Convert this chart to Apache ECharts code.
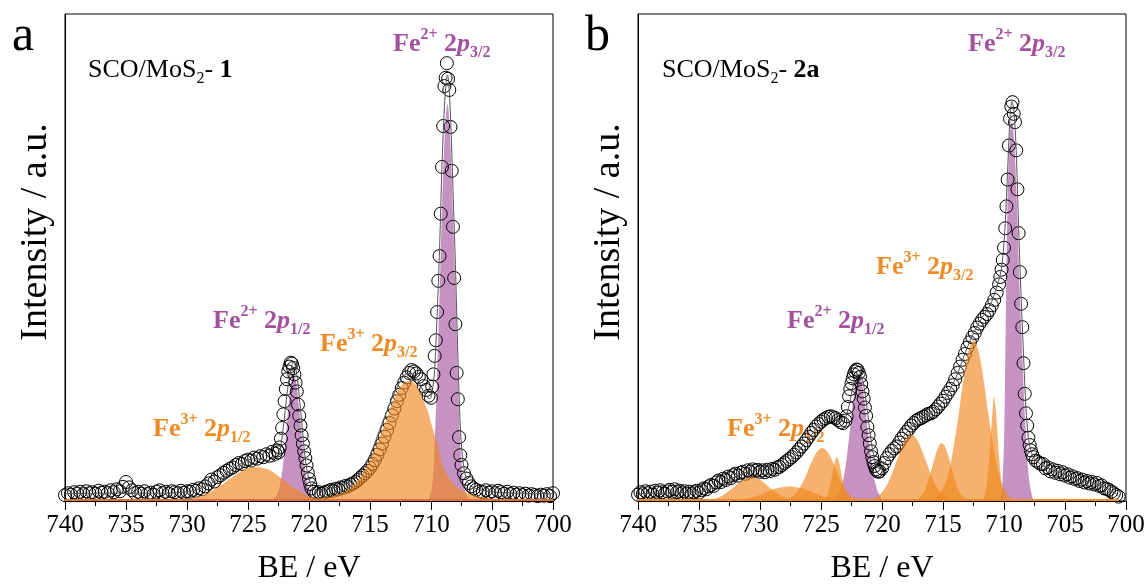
<!DOCTYPE html>
<html><head><meta charset="utf-8">
<script src="https://cdn.jsdelivr.net/npm/echarts@6/dist/echarts.min.js"></script>
<style>html,body{margin:0;padding:0;background:#fff}#c{width:1146px;height:585px}</style>
</head><body><div id="c"></div>
<script>
// ---------- DATA (binding energy in eV, intensity in a.u. 0-100) ----------
const xTickLabels = [740, 735, 730, 725, 720, 715, 710, 705, 700];

// Panel a : SCO/MoS2-1 measured points
const obsA = [[740.0,1.2],[739.75,1.6],[739.5,1.3],[739.25,1.8],[739.0,1.5],[738.75,1.9],[738.5,1.4],[738.25,2.0],[738.0,1.6],[737.75,1.8],[737.5,1.5],[737.25,2.1],[737.0,1.7],[736.75,1.9],[736.5,1.6],[736.25,2.2],[736.0,1.8],[735.75,2.4],[735.5,2.0],[735.25,2.9],[735.0,3.9],[734.75,2.8],[734.5,2.2],[734.25,1.6],[734.0,1.9],[733.75,1.5],[733.5,2.0],[733.25,1.4],[733.0,1.7],[732.75,1.3],[732.5,1.9],[732.25,2.2],[732.0,1.6],[731.75,1.9],[731.5,1.5],[731.25,2.0],[731.0,1.8],[730.75,1.6],[730.5,2.1],[730.25,1.7],[730.0,2.0],[729.75,1.9],[729.5,2.3],[729.25,2.1],[729.0,2.6],[728.75,2.4],[728.5,3.0],[728.25,3.6],[728.0,4.4],[727.75,4.0],[727.5,4.9],[727.25,5.3],[727.0,5.8],[726.75,6.2],[726.5,6.6],[726.25,6.9],[726.0,7.4],[725.75,7.8],[725.5,7.6],[725.25,8.2],[725.0,8.5],[724.75,8.3],[724.5,8.9],[724.25,8.7],[724.0,9.2],[723.75,9.0],[723.5,9.6],[723.25,9.3],[723.0,10.1],[722.75,9.7],[722.6,10.4],[722.5,10.0],[722.4,11.0],[722.3,12.8],[722.2,15.0],[722.1,17.8],[722.0,20.5],[721.9,23.0],[721.8,25.0],[721.7,26.6],[721.6,27.6],[721.5,28.4],[721.4,28.2],[721.3,27.3],[721.2,26.0],[721.1,24.3],[721.0,22.5],[720.9,19.8],[720.8,17.5],[720.7,15.5],[720.6,13.5],[720.5,11.8],[720.4,10.2],[720.3,8.8],[720.2,7.3],[720.1,5.8],[720.0,4.5],[719.9,3.5],[719.8,2.6],[719.6,1.9],[719.4,1.6],[719.2,1.8],[719.0,1.5],[718.8,1.7],[718.6,1.9],[718.4,2.0],[718.2,2.3],[718.0,2.1],[717.8,2.5],[717.6,2.4],[717.4,2.8],[717.2,2.7],[717.0,3.1],[716.8,3.0],[716.6,3.4],[716.4,3.6],[716.2,3.9],[716.0,4.3],[715.8,4.8],[715.6,5.2],[715.4,5.7],[715.2,6.2],[715.0,6.8],[714.8,7.6],[714.6,8.4],[714.4,9.5],[714.2,10.6],[714.0,11.8],[713.8,13.2],[713.6,14.6],[713.4,16.0],[713.2,17.6],[713.0,19.0],[712.8,20.5],[712.6,21.8],[712.4,23.2],[712.2,24.3],[712.0,25.4],[711.8,26.3],[711.6,26.9],[711.4,26.6],[711.2,26.2],[711.0,25.5],[710.8,25.0],[710.6,23.6],[710.4,22.8],[710.2,21.6],[710.0,21.2],[709.9,23.5],[709.8,26.0],[709.7,29.8],[709.6,33.0],[709.5,38.8],[709.4,45.2],[709.3,50.3],[709.2,59.0],[709.1,68.6],[709.0,77.0],[708.9,85.2],[708.8,86.9],[708.7,89.9],[708.6,86.7],[708.5,84.4],[708.4,76.8],[708.3,67.8],[708.2,56.3],[708.1,45.8],[708.0,36.3],[707.9,26.3],[707.8,20.9],[707.7,13.1],[707.6,9.4],[707.5,7.4],[707.3,5.7],[707.1,4.6],[706.9,3.7],[706.7,3.0],[706.5,2.6],[706.3,2.3],[706.0,2.0],[705.75,1.8],[705.5,2.2],[705.25,1.7],[705.0,2.0],[704.75,1.6],[704.5,2.1],[704.25,1.8],[704.0,1.5],[703.75,1.9],[703.5,1.4],[703.25,1.7],[703.0,1.3],[702.75,1.6],[702.5,1.2],[702.25,1.5],[702.0,1.1],[701.75,1.4],[701.5,1.2],[701.25,1.0],[701.0,1.3],[700.75,1.1],[700.5,1.4],[700.25,1.0],[700.0,1.6]];
// Panel a : fitted components
const a_fe3_p12 = [[731,0],[730,0.3],[729,0.9],[728,2.0],[727,3.6],[726.5,4.5],[726,5.4],[725.5,6.2],[725,6.8],[724.3,7.0],[723.5,6.6],[723,6.0],[722.5,5.1],[722,4.2],[721.5,3.2],[721,2.4],[720.5,1.6],[720,1.0],[719,0.4],[718,0.1],[717,0]];
const a_fe2_p12 = [[722.9,0.5],[722.55,1.6],[722.25,5.1],[722.1,8.1],[721.9,13.2],[721.7,18.9],[721.5,23.5],[721.25,26.3],[721.0,23.5],[720.8,18.9],[720.6,13.2],[720.4,8.1],[720.25,5.1],[719.95,1.6],[719.6,0.5]];
const a_fe3_p32 = [[720,0.3],[719,0.6],[718,1.1],[717,2.0],[716.5,3.0],[715.8,4.9],[715.2,7.5],[714.8,9.6],[714.4,11.9],[714,14.5],[713.5,17.8],[713.1,20.7],[712.6,23.2],[712.2,24.3],[711.7,24.7],[711.2,23.7],[710.8,21.7],[710.3,18.7],[709.9,15.2],[709.5,11.9],[709.2,8.8],[709.0,7.0],[708.6,5.0],[708.2,3.6],[707.6,2.3],[706.5,1.2],[705.4,0.6],[704,0.2],[702,0]];
const a_fe2_p32 = [[710.2,0.3],[709.9,3],[709.7,12],[709.5,26],[709.3,42],[709.1,60],[708.9,74],[708.75,80],[708.65,81.5],[708.55,80],[708.4,73],[708.2,59],[708.0,44],[707.8,26],[707.6,12],[707.4,5],[707.1,1.2],[706.8,0.3]];
const a_envelope = [[740,1.5],[736,1.6],[732,1.6],[730,1.9],[729,2.5],[728,3.6],[727,5.2],[726,7.0],[725,8.4],[724.3,8.7],[723.5,8.4],[723,8.0],[722.6,8.5],[722.3,11.5],[722.0,17.5],[721.8,22],[721.6,25.5],[721.4,27.8],[721.25,28.6],[721.1,27.5],[720.9,24.0],[720.7,19],[720.5,13.5],[720.3,8.5],[720.0,4.5],[719.7,2.8],[719.3,2.2],[718.5,2.3],[718,2.6],[717,3.5],[716,5.2],[715,9.5],[714,16],[713,22.2],[712.2,25.8],[711.7,26.2],[711.2,25.3],[710.8,23.5],[710.4,21.5],[710.1,21.0],[709.9,22.5],[709.7,27],[709.5,38],[709.3,51.5],[709.1,69],[708.9,81],[708.75,86],[708.65,87.5],[708.55,86],[708.4,79],[708.2,64],[708.0,48.5],[707.8,30],[707.6,15.5],[707.4,8.5],[707.1,4.5],[706.8,3.2],[706,2.3],[705,1.9],[703,1.6],[700,1.5]];
const a_zero = [[740,0.2],[700,0.2]];

// Panel b : SCO/MoS2-2a measured points
const obsB = [[740.0,1.3],[739.8,1.8],[739.6,1.4],[739.4,2.0],[739.2,1.6],[739.0,1.9],[738.8,1.3],[738.6,2.1],[738.4,1.7],[738.2,2.2],[738.0,1.8],[737.8,1.5],[737.6,2.0],[737.4,2.3],[737.2,1.9],[737.0,2.4],[736.8,1.8],[736.6,2.1],[736.4,1.6],[736.2,2.0],[736.0,1.5],[735.8,1.9],[735.6,1.4],[735.4,1.8],[735.2,2.1],[735.0,1.7],[734.8,2.2],[734.6,2.6],[734.4,2.4],[734.2,3.0],[734.0,3.3],[733.8,3.1],[733.6,3.8],[733.4,4.2],[733.2,3.9],[733.0,4.6],[732.8,4.3],[732.6,5.0],[732.4,4.7],[732.2,5.3],[732.0,5.6],[731.8,5.2],[731.6,5.8],[731.4,6.0],[731.2,5.6],[731.0,6.3],[730.8,6.0],[730.6,6.5],[730.4,6.2],[730.2,6.4],[730.0,6.0],[729.8,6.3],[729.6,5.9],[729.4,6.4],[729.2,6.1],[729.0,6.6],[728.8,6.4],[728.6,6.9],[728.4,7.0],[728.2,7.4],[728.0,7.8],[727.8,8.2],[727.6,8.6],[727.4,9.0],[727.2,9.5],[727.0,10.0],[726.8,10.6],[726.6,11.2],[726.4,11.8],[726.2,12.5],[726.0,13.2],[725.8,14.0],[725.6,14.6],[725.4,15.3],[725.2,15.8],[725.0,16.3],[724.8,16.7],[724.6,17.0],[724.4,17.3],[724.2,17.4],[724.0,17.2],[723.8,17.0],[723.6,16.6],[723.4,16.2],[723.2,16.0],[723.0,16.5],[722.9,17.4],[722.8,19.3],[722.7,21.5],[722.6,23.0],[722.5,24.2],[722.4,25.2],[722.3,26.0],[722.2,26.6],[722.1,27.0],[722.0,26.9],[721.9,26.3],[721.8,25.5],[721.7,24.0],[721.6,22.5],[721.5,21.0],[721.4,19.2],[721.3,17.5],[721.2,15.2],[721.1,13.5],[721.0,11.8],[720.9,10.2],[720.8,9.0],[720.7,8.0],[720.6,7.2],[720.5,6.5],[720.4,6.2],[720.3,6.0],[720.2,6.1],[720.0,6.7],[719.8,7.8],[719.6,8.8],[719.4,9.6],[719.2,10.3],[719.0,10.8],[718.8,11.2],[718.6,12.0],[718.4,12.8],[718.2,13.5],[718.0,14.2],[717.8,14.8],[717.6,15.5],[717.4,16.0],[717.2,16.5],[717.0,16.8],[716.8,17.0],[716.6,17.3],[716.4,17.6],[716.2,17.9],[716.0,18.0],[715.8,18.3],[715.6,18.8],[715.4,19.4],[715.2,20.0],[715.0,20.6],[714.8,21.4],[714.6,22.2],[714.4,23.0],[714.2,23.8],[714.0,25.0],[713.8,26.3],[713.6,27.6],[713.4,29.0],[713.2,30.2],[713.0,31.5],[712.8,32.6],[712.6,33.6],[712.4,34.5],[712.2,35.6],[712.0,36.4],[711.8,37.2],[711.6,37.8],[711.4,38.4],[711.2,39.2],[711.0,40.2],[710.8,41.3],[710.6,42.8],[710.4,44.5],[710.3,46.0],[710.2,47.5],[710.1,49.5],[710.0,52.0],[709.9,56.0],[709.8,60.5],[709.7,66.0],[709.6,73.0],[709.5,78.5],[709.4,81.0],[709.3,81.9],[709.2,79.5],[709.1,77.8],[709.0,72.0],[708.9,64.0],[708.8,55.0],[708.7,47.0],[708.6,40.5],[708.5,35.7],[708.4,28.3],[708.3,22.0],[708.2,18.0],[708.1,15.5],[708.0,13.0],[707.9,11.5],[707.8,10.4],[707.7,9.6],[707.6,9.0],[707.4,8.3],[707.2,8.0],[707.0,7.6],[706.8,7.6],[706.6,6.7],[706.4,6.9],[706.2,6.1],[706.0,6.5],[705.8,5.8],[705.6,6.2],[705.4,5.5],[705.2,5.9],[705.0,5.2],[704.8,5.5],[704.6,4.8],[704.4,5.1],[704.2,4.5],[704.0,4.7],[703.8,4.1],[703.6,4.4],[703.4,3.8],[703.2,4.1],[703.0,3.6],[702.8,3.9],[702.6,3.4],[702.4,3.7],[702.2,3.1],[702.0,3.2],[701.8,2.6],[701.6,2.5],[701.4,2.3],[701.2,1.9],[701.0,1.6],[700.8,1.2],[700.6,0.9]];
// Panel b : fitted components
const b_fe3_1 = [[734.5,0],[733.5,0.6],[732.8,1.6],[732.3,2.5],[731.8,3.6],[731.3,4.5],[730.7,4.9],[730.1,4.5],[729.6,3.6],[729.1,2.5],[728.6,1.6],[727.9,0.6],[727,0]];
const b_fe3_2 = [[732,0],[730.5,0.8],[729.5,1.8],[728.5,2.7],[727.6,3.0],[726.7,2.7],[725.7,1.8],[724.7,0.8],[723,0]];
const b_fe3_3 = [[727.9,0.3],[727.4,0.8],[726.9,2.1],[726.5,3.8],[726.1,6.0],[725.7,8.4],[725.3,10.2],[724.9,10.9],[724.5,10.2],[724.1,8.4],[723.7,6.0],[723.3,3.8],[722.9,2.1],[722.4,0.8],[721.9,0.3]];
const b_fe3_4 = [[724.7,0.3],[724.5,1.0],[724.3,2.6],[724.1,5.1],[723.9,7.8],[723.7,9.0],[723.5,7.8],[723.3,5.1],[723.1,2.6],[722.9,1.0],[722.7,0.3]];
const b_fe2_p12 = [[723.7,0.8],[723.4,2.3],[723.1,5.4],[722.9,8.8],[722.7,13],[722.5,17.5],[722.3,21.8],[722.1,24.8],[721.9,25.9],[721.7,24.8],[721.5,21.8],[721.3,17.5],[721.1,13],[720.9,8.8],[720.7,5.4],[720.4,2.3],[720.1,0.8]];
const b_fe3_5 = [[720.6,0.5],[720.1,1.5],[719.6,3.3],[719.2,5.5],[718.8,8.2],[718.4,10.9],[718.0,12.9],[717.6,13.6],[717.2,12.9],[716.8,10.9],[716.4,8.2],[716.0,5.5],[715.6,3.3],[715.1,1.5],[714.6,0.5]];
const b_fe3_6 = [[717.0,0.5],[716.6,1.7],[716.3,3.4],[716.0,5.9],[715.7,8.7],[715.4,11],[715.1,11.9],[714.8,11],[714.5,8.7],[714.2,5.9],[713.9,3.4],[713.6,1.7],[713.2,0.5]];
const b_fe3_7 = [[715.5,0.8],[715.0,2.5],[714.5,6.3],[714.1,11.6],[713.7,18.1],[713.3,25.4],[712.9,30.9],[712.5,33],[712.1,30.9],[711.7,25.4],[711.3,18.1],[710.9,11.6],[710.5,6.3],[710.0,2.5],[709.5,0.8]];
const b_fe3_8 = [[711.65,0.6],[711.45,2.6],[711.25,7.3],[711.1,12.6],[710.95,18],[710.8,21.4],[710.65,18],[710.5,12.6],[710.35,7.3],[710.15,2.6],[709.95,0.6]];
const b_fe2_p32 = [[710.3,0],[710.15,3],[710.0,12],[709.9,28],[709.8,48],[709.7,63],[709.55,73],[709.45,77],[709.34,78],[709.2,75],[709.05,68],[708.9,58],[708.75,46],[708.6,36],[708.45,27],[708.3,18],[708.1,9],[707.9,3.5],[707.65,0.5]];
const b_envelope = [[740,1.5],[737,1.7],[735,1.9],[734,2.6],[733,3.8],[732,5.0],[731,6.0],[730,6.4],[729,6.6],[728,7.6],[727,9.8],[726,12.9],[725,16.0],[724.2,17.2],[723.6,16.6],[723.2,16.5],[722.8,18.6],[722.4,23.3],[722.1,26.2],[721.9,26.8],[721.6,25],[721.3,20.5],[721.0,14.5],[720.7,9.5],[720.4,7.0],[720.1,6.6],[719.6,8.6],[719,10.6],[718,14.0],[717,16.6],[716,18.0],[715,20.5],[714,25.0],[713,31.6],[712.2,36.0],[711.5,38.8],[711.0,41.0],[710.6,44.0],[710.3,46.5],[710.1,50],[709.9,57],[709.7,68],[709.5,79],[709.35,82],[709.2,80.5],[709.0,72],[708.8,56],[708.6,42],[708.4,30],[708.2,19],[708.0,13],[707.8,10.4],[707.5,8.6],[707,7.6],[706,6.3],[705,5.5],[704,4.5],[703,3.9],[702,3.1],[701,1.8],[700.6,1.0]];
const b_zero = [[740,0.2],[700.6,0.2]];

// ---------- STYLE ----------
const FONT = "'Liberation Serif','Times New Roman',serif";
const PURPLE_TXT = '#a3509f';
const ORANGE_TXT = '#f08a24';
const PURPLE_FILL = 'rgba(160,74,156,0.6)';
const ORANGE_FILL = 'rgba(239,135,30,0.65)';

const chart = echarts.init(document.getElementById('c'), null, {renderer: 'canvas'});

function xAx(gi) {
  return {
    type: 'value', gridIndex: gi, min: 700, max: 740, interval: 5, inverse: true,
    name: 'BE / eV', nameLocation: 'middle', nameGap: 52,
    nameTextStyle: {fontFamily: FONT, fontSize: 32, color: '#000'},
    axisLine: {show: true, lineStyle: {color: '#000', width: 1}},
    axisTick: {show: true, inside: false, length: 9, lineStyle: {color: '#000', width: 1}},
    minorTick: {show: true, splitNumber: 2, length: 5, lineStyle: {color: '#000', width: 1}},
    axisLabel: {show: true, margin: 12, fontFamily: FONT, fontSize: 25, color: '#000',
      showMinLabel: true, showMaxLabel: true, hideOverlap: false,
      formatter: v => xTickLabels.indexOf(v) >= 0 ? String(v) : ''},
    splitLine: {show: false}, minorSplitLine: {show: false}
  };
}
function yAx(gi) {
  return {
    type: 'value', gridIndex: gi, min: 0, max: 100,
    axisLine: {show: true, lineStyle: {color: '#000', width: 1}},
    axisTick: {show: false}, axisLabel: {show: false}, splitLine: {show: false}
  };
}
function area(data, fill, gi, z) {
  return {type: 'line', xAxisIndex: gi, yAxisIndex: gi, data: data, smooth: 0.3,
    showSymbol: false, symbol: 'none', silent: true, z: z,
    lineStyle: {width: 0, opacity: 0}, areaStyle: {color: fill, opacity: 1}};
}
function points(data, gi) {
  return {type: 'scatter', xAxisIndex: gi, yAxisIndex: gi, data: data, symbol: 'circle', symbolSize: 13,
    silent: true, z: 2, itemStyle: {color: 'rgba(0,0,0,0)', borderColor: '#000', borderWidth: 1, opacity: 1}};
}
function envelope(data, gi) {
  return {type: 'line', xAxisIndex: gi, yAxisIndex: gi, data: data, smooth: 0.3,
    showSymbol: false, symbol: 'none', silent: true, z: 4, lineStyle: {color: '#555', width: 1}};
}
function zeroLine(data, gi, color) {
  return {type: 'line', xAxisIndex: gi, yAxisIndex: gi, data: data, showSymbol: false, symbol: 'none',
    silent: true, z: 3, lineStyle: {color: color, width: 2}};
}

const rich = {
  b: {fontFamily: FONT, fontSize: 26, fontWeight: 'bold', lineHeight: 34, verticalAlign: 'middle'},
  bi: {fontFamily: FONT, fontSize: 26, fontWeight: 'bold', fontStyle: 'italic', lineHeight: 34, verticalAlign: 'middle'},
  sup: {fontFamily: FONT, fontSize: 16, fontWeight: 'bold', lineHeight: 16, verticalAlign: 'top'},
  sub: {fontFamily: FONT, fontSize: 16, fontWeight: 'bold', lineHeight: 16, verticalAlign: 'bottom'},
  r: {fontFamily: FONT, fontSize: 26, lineHeight: 34, verticalAlign: 'middle', fill: '#000'},
  rs: {fontFamily: FONT, fontSize: 16, lineHeight: 16, verticalAlign: 'bottom', fill: '#000'},
  rb: {fontFamily: FONT, fontSize: 26, fontWeight: 'bold', lineHeight: 34, verticalAlign: 'middle', fill: '#000'},
  big: {fontFamily: FONT, fontSize: 50, lineHeight: 50, verticalAlign: 'middle', fill: '#000'}
};
function lbl(text, left, top, color) {
  return {type: 'text', left: left, top: top, z: 0, silent: true,
    style: {text: text, rich: rich, fill: color, fontFamily: FONT}};
}
function yName(cx, cy) {
  return {type: 'text', x: cx, y: cy, rotation: Math.PI / 2, z: 0, silent: true,
    style: {text: 'Intensity / a.u.', fill: '#000', font: "38px 'Liberation Serif','Times New Roman',serif",
      align: 'center', verticalAlign: 'middle'}};
}
const peak = (ion, orb) => '{b|Fe}{sup|' + ion + '}{b| 2}{bi|p}{sub|' + orb + '}';

const gridBase = {top: 14, width: 488, height: 487, show: true, borderColor: '#000', borderWidth: 1,
  backgroundColor: 'rgba(0,0,0,0)', containLabel: false, outerBoundsMode: 'none'};

const option = {
  animation: false,
  backgroundColor: '#fff',
  grid: [
    Object.assign({left: 65}, gridBase),
    Object.assign({left: 638}, gridBase)
  ],
  xAxis: [xAx(0), xAx(1)],
  yAxis: [yAx(0), yAx(1)],
  graphic: [
    lbl('{big|a}', 12, 12, '#000'),
    lbl('{big|b}', 585, 12, '#000'),
    yName(36, 232),
    yName(609, 232),
    lbl('{r|SCO/MoS}{rs|2}{r|- }{rb|1}', 88, 57, '#000'),
    lbl('{r|SCO/MoS}{rs|2}{r|- }{rb|2a}', 662, 57, '#000'),
    lbl(peak('2+', '3/2'), 393, 27, PURPLE_TXT),
    lbl(peak('2+', '1/2'), 213, 304, PURPLE_TXT),
    lbl(peak('3+', '3/2'), 320, 327, ORANGE_TXT),
    lbl(peak('3+', '1/2'), 153, 412, ORANGE_TXT),
    lbl(peak('2+', '3/2'), 968, 27, PURPLE_TXT),
    lbl(peak('3+', '3/2'), 876, 250, ORANGE_TXT),
    lbl(peak('2+', '1/2'), 787, 304, PURPLE_TXT),
    lbl(peak('3+', '1/2'), 727, 412, ORANGE_TXT)
  ],
  series: [
    // panel a
    area(a_fe2_p12, PURPLE_FILL, 0, 1),
    area(a_fe2_p32, PURPLE_FILL, 0, 1),
    points(obsA, 0),
    area(a_fe3_p12, ORANGE_FILL, 0, 3),
    area(a_fe3_p32, ORANGE_FILL, 0, 3),
    zeroLine(a_zero, 0, '#e0703a'),
    envelope(a_envelope, 0),
    // panel b
    area(b_fe2_p12, PURPLE_FILL, 1, 1),
    area(b_fe2_p32, PURPLE_FILL, 1, 1),
    points(obsB, 1),
    area(b_fe3_1, ORANGE_FILL, 1, 3),
    area(b_fe3_2, ORANGE_FILL, 1, 3),
    area(b_fe3_3, ORANGE_FILL, 1, 3),
    area(b_fe3_4, ORANGE_FILL, 1, 3),
    area(b_fe3_5, ORANGE_FILL, 1, 3),
    area(b_fe3_6, ORANGE_FILL, 1, 3),
    area(b_fe3_7, ORANGE_FILL, 1, 3),
    area(b_fe3_8, ORANGE_FILL, 1, 3),
    zeroLine(b_zero, 1, '#f08a24'),
    envelope(b_envelope, 1)
  ]
};
chart.setOption(option);
</script></body></html>
